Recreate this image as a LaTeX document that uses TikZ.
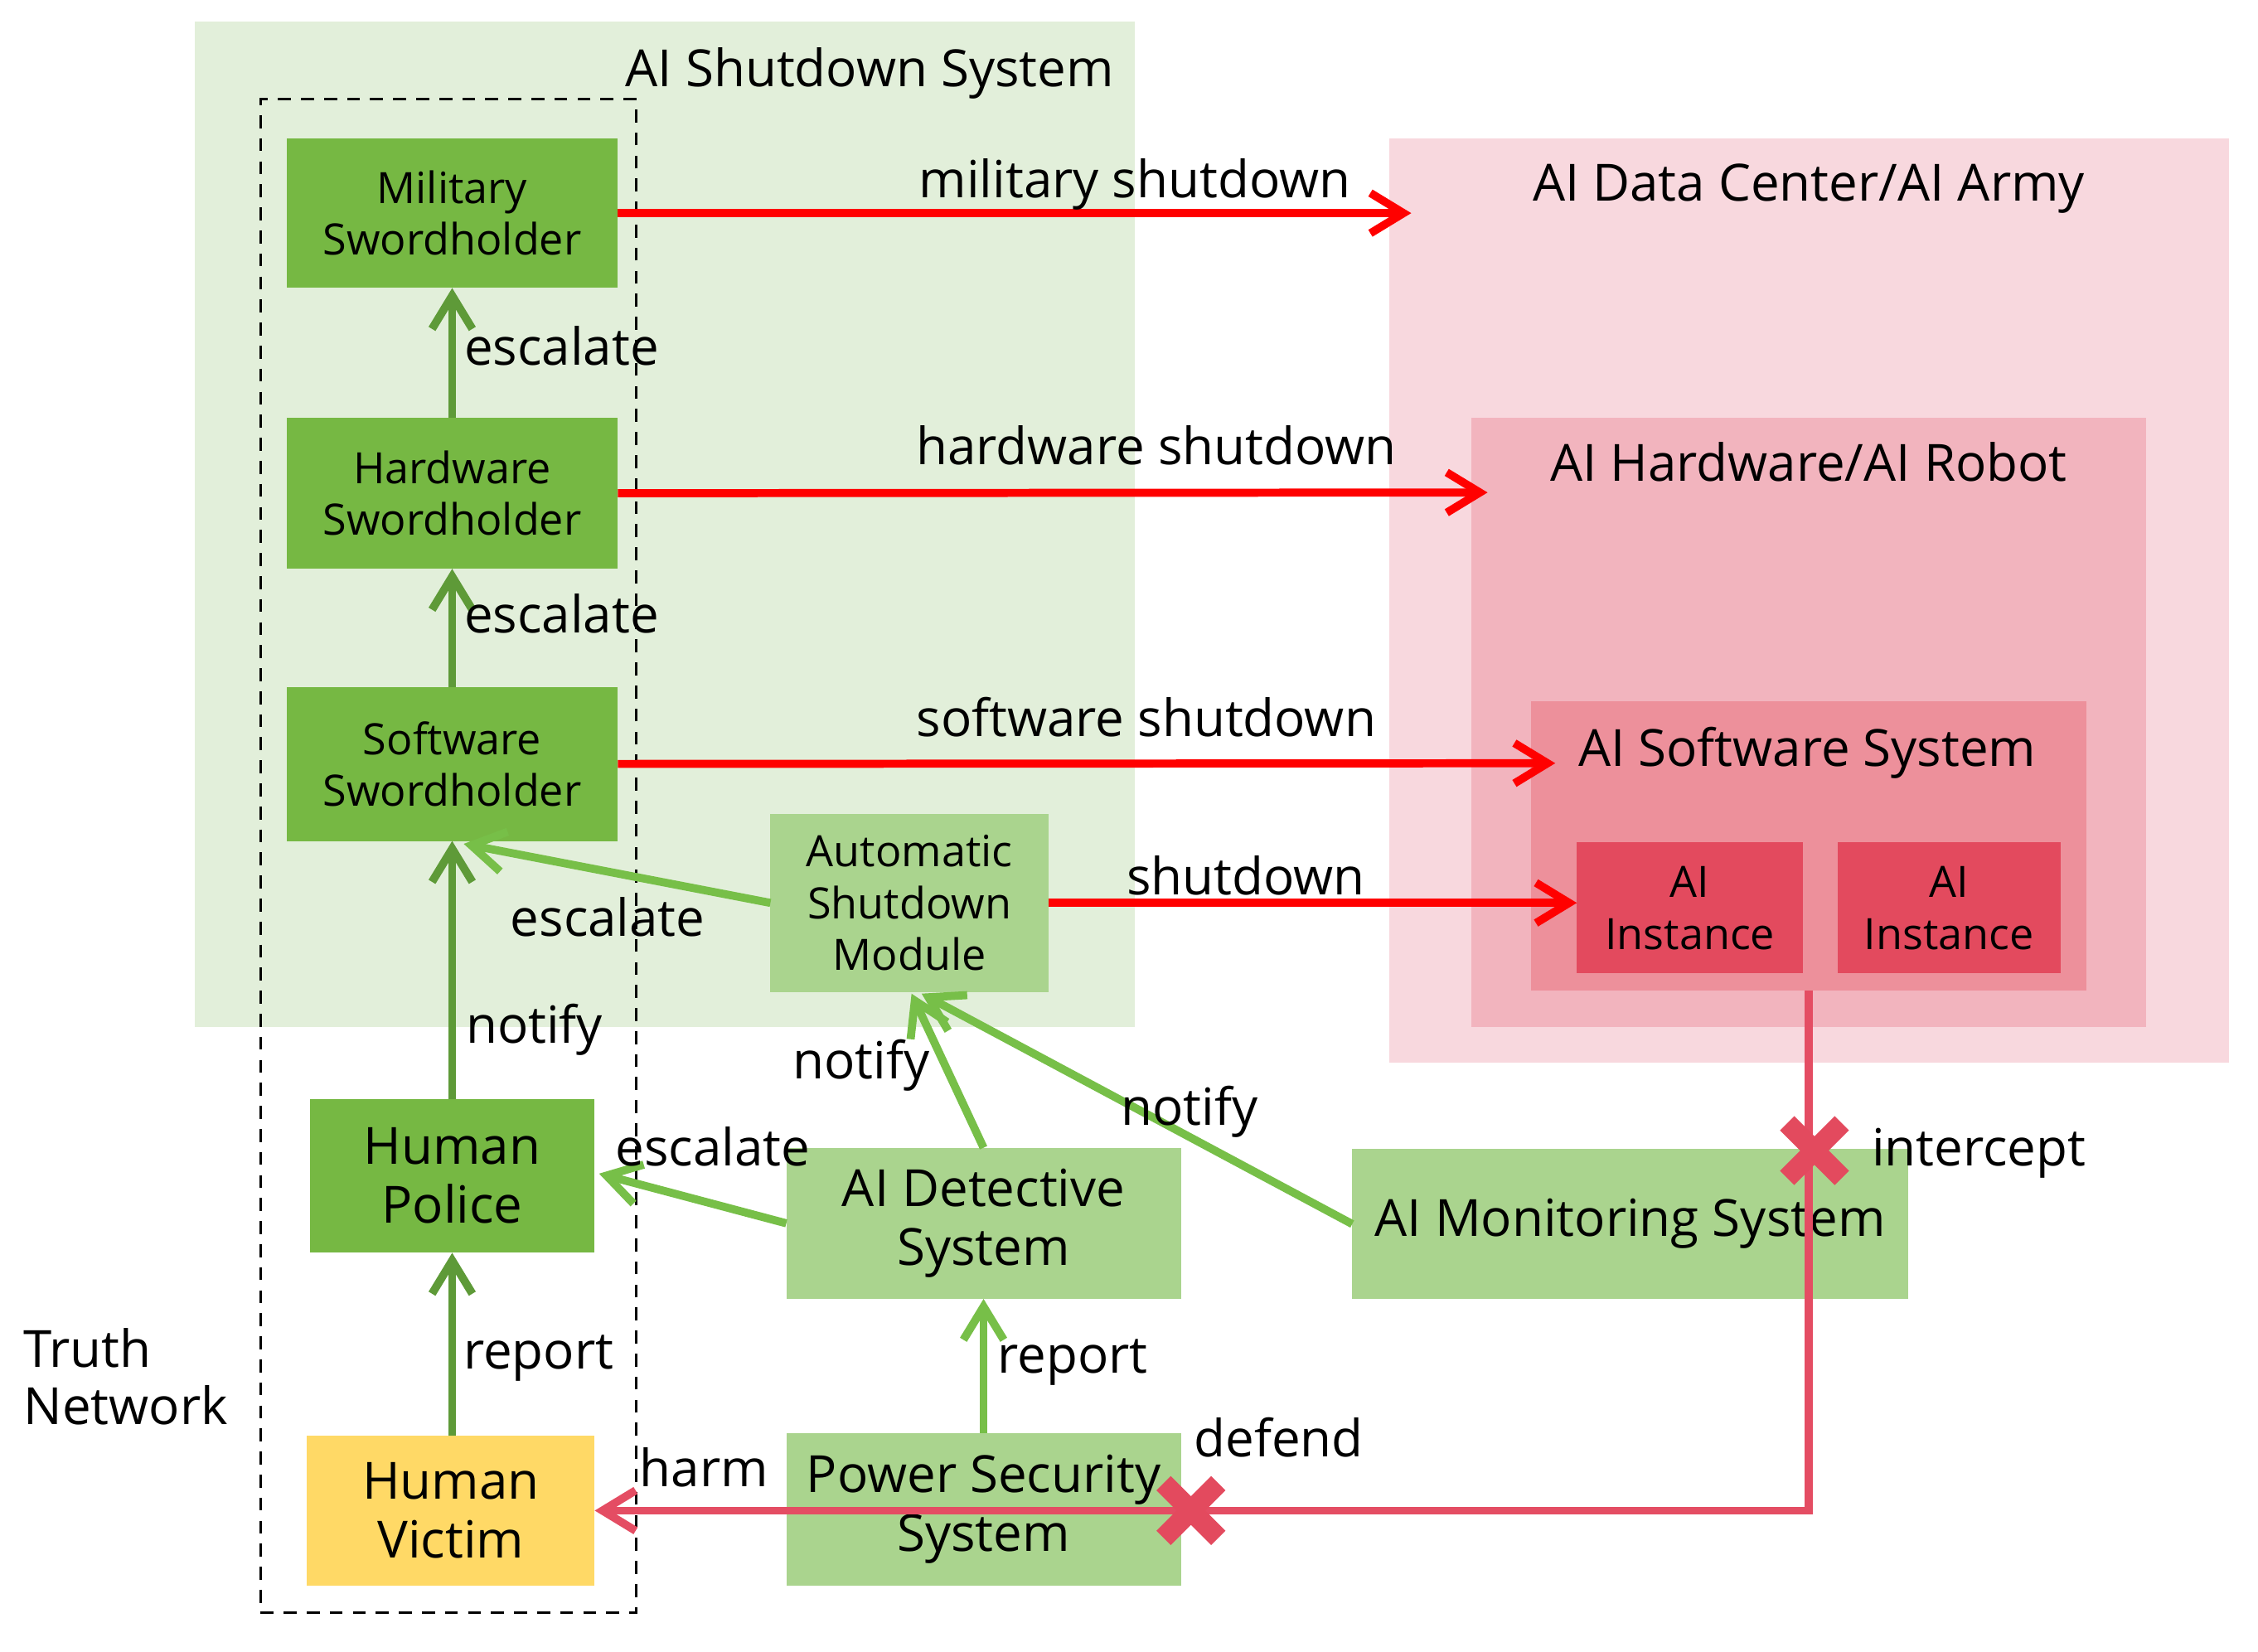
\documentclass[tikz,border=0pt]{standalone}
\usepackage{fontspec}
\setmainfont{Open Sans}
\usetikzlibrary{arrows.meta,shapes.misc}
\definecolor{bggreen}{HTML}{E2EFDA}
\definecolor{swgreen}{HTML}{76B843}
\definecolor{lgbox}{HTML}{AAD48E}
\definecolor{vyellow}{HTML}{FFD966}
\definecolor{pinkA}{HTML}{F8D8DE}
\definecolor{pinkB}{HTML}{F2B4BE}
\definecolor{pinkC}{HTML}{ED909B}
\definecolor{instred}{HTML}{E34A5E}
\definecolor{pkline}{HTML}{E44D63}
\definecolor{dkarrow}{HTML}{5E9A38}
\definecolor{ltarrow}{HTML}{77BF48}
\begin{document}
\begin{tikzpicture}[x=0.5pt,y=-0.5pt,
  bigf/.style={font=\fontsize{17.8}{20.5}\selectfont},
  smallf/.style={font=\fontsize{15}{18}\selectfont},
  box/.style={inner sep=0pt,outer sep=0pt,align=center,anchor=center},
  region/.style={inner sep=0pt,outer sep=0pt,anchor=center},
  lbl/.style={inner sep=0pt,outer sep=0pt,bigf,text height=0.74em,text depth=0em,yshift=-2.5pt},
  chev/.style={-{Straight Barb[length=11.5pt,width=14pt]}},
  redarr/.style={chev,draw=red,line width=2.8pt},
  dkarr/.style={chev,draw=dkarrow,line width=2.8pt},
  ltarr/.style={chev,draw=ltarrow,line width=2.8pt},
  pkarr/.style={chev,draw=pkline,line width=2.8pt},
  xmark/.style={cross out,draw=instred,line width=7pt,minimum size=19pt,inner sep=0pt,outer sep=0pt}
]
\useasboundingbox (0,0) rectangle (1568,1147);
% background regions
\node[region,fill=bggreen,minimum width=326.5pt,minimum height=349pt] (shutsys) at (461.5,364) {};
\node[region,fill=pinkA,minimum width=291.5pt,minimum height=321pt] (dcenter) at (1256.5,417) {};
\node[region,fill=pinkB,minimum width=234pt,minimum height=211.5pt] (hwreg) at (1256,501.5) {};
\node[region,fill=pinkC,minimum width=193pt,minimum height=100.5pt] (swreg) at (1256,587.5) {};
\node[region,draw=black,dash pattern=on 4.5pt off 3.5pt,line width=0.9pt,minimum width=130.5pt,minimum height=525.5pt] (truthbox) at (311.5,594.5) {};
% region titles
\node[lbl] (tAS) at (604,48) {AI Shutdown System};
\node[lbl] (tDC) at (1256,127) {AI Data Center/AI Army};
\node[lbl] (tHW) at (1256,322) {AI Hardware/AI Robot};
\node[lbl] (tSW) at (1255,520) {AI Software System};
% boxes
\node[box,smallf,fill=swgreen,minimum width=115pt,minimum height=52pt] (mil) at (314,148) {Military\\Swordholder};
\node[box,smallf,fill=swgreen,minimum width=115pt,minimum height=52.5pt] (hw) at (314,342.5) {Hardware\\Swordholder};
\node[box,smallf,fill=swgreen,minimum width=115pt,minimum height=53.5pt] (sw) at (314,530.5) {Software\\Swordholder};
\node[box,bigf,fill=swgreen,minimum width=99pt,minimum height=53.5pt] (police) at (314,816.5) {Human\\Police};
\node[box,bigf,fill=vyellow,minimum width=100pt,minimum height=52pt] (victim) at (313,1049) {Human\\Victim};
\node[box,smallf,fill=lgbox,minimum width=96.5pt,minimum height=62pt] (asm) at (631.5,627) {Automatic\\Shutdown\\Module};
\node[box,bigf,fill=lgbox,minimum width=137pt,minimum height=52.5pt] (det) at (683,849.5) {AI Detective\\System};
\node[box,bigf,fill=lgbox,minimum width=137pt,minimum height=53pt] (psec) at (683,1048) {Power Security\\System};
\node[box,bigf,fill=lgbox,minimum width=193pt,minimum height=52pt] (mon) at (1132,850) {AI Monitoring System};
\node[box,smallf,fill=instred,minimum width=78.5pt,minimum height=45.5pt] (inst1) at (1173.5,630.5) {AI\\Instance};
\node[box,smallf,fill=instred,minimum width=77.5pt,minimum height=45.5pt] (inst2) at (1353.5,630.5) {AI\\Instance};
% free ends
\coordinate (milT) at (980,148);
\coordinate (hwT) at (1033,342);
\coordinate (swT) at (1080,530);
\coordinate (swIn) at (322,586);
\coordinate (polIn) at (416,815);
\coordinate (asmIn1) at (633,690);
\coordinate (asmIn2) at (640,690);
% red shutdown arrows
\draw[redarr] (mil.east) -- (milT);
\draw[redarr] (hw.east) -- (hwT);
\draw[redarr] (sw.east) -- (swT);
\draw[redarr] (asm.east) -- (asm.east -| inst1.west);
% dark green arrows
\draw[dkarr] (hw.north) -- (mil.south);
\draw[dkarr] (sw.north) -- (hw.south);
\draw[dkarr] (police.north) -- (sw.south);
\draw[dkarr] (police.south |- victim.north) -- (police.south);
% light green arrows
\draw[ltarr] (asm.west) -- (swIn);
\draw[ltarr] (det.west) -- (polIn);
\draw[ltarr] (det.north) -- (asmIn1);
\draw[ltarr] (mon.west) -- (asmIn2);
\draw[ltarr] (psec.north) -- (det.south);
% harm line
\draw[pkarr] (swreg.south) |- (victim.east);
\node[xmark] (x1) at (1260,799) {};
\node[xmark] (x2) at (827,1049) {};
% connector labels
\node[lbl] (l1) at (788,125) {military shutdown};
\node[lbl] (l2) at (803,310) {hardware shutdown};
\node[lbl] (l3) at (796,499) {software shutdown};
\node[lbl] (l4) at (865,609) {shutdown};
\node[lbl] (l5) at (390,241) {escalate};
\node[lbl] (l6) at (390,427) {escalate};
\node[lbl] (l7) at (422,638) {escalate};
\node[lbl] (l8) at (371,712) {notify};
\node[lbl] (l9) at (374,938) {report};
\node[lbl] (l10) at (495,797) {escalate};
\node[lbl] (l11) at (598,737) {notify};
\node[lbl] (l12) at (826,769) {notify};
\node[lbl] (l13) at (745,941) {report};
\node[lbl] (l14) at (489,1020) {harm};
\node[lbl] (l15) at (888,999) {defend};
\node[lbl] (l16) at (1374,797) {intercept};
\node[inner sep=0pt,anchor=west,align=left,font=\fontsize{17.8}{20}\selectfont] (truth) at (16,956) {Truth\\Network};
\end{tikzpicture}
\end{document}
